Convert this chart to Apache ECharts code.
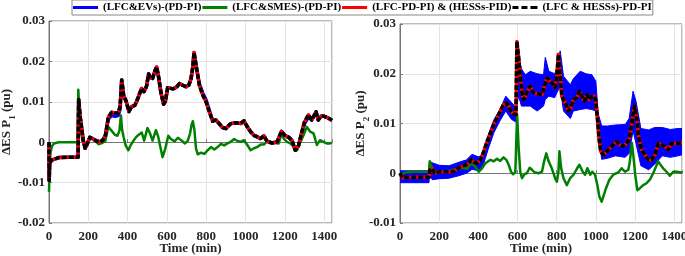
<!DOCTYPE html>
<html>
<head>
<meta charset="utf-8">
<script src="https://cdn.jsdelivr.net/npm/echarts@6/dist/echarts.min.js"></script>
<style>html,body{margin:0;padding:0;background:#fff}#c{width:685px;height:256px}</style>
</head>
<body>
<div id="c"></div>
<script>
// ---------- names ----------
const nameEv = '(LFC&EVs)-(PD-PI)';
const nameSmes = '(LFC&SMES)-(PD-PI)';
const namePid = '(LFC-PD-PI) & (HESSs-PID)';
const nameHess = '(LFC & HESSs)-PD-PI';

// ---------- axes ----------
const xTicks = [0, 200, 400, 600, 800, 1000, 1200, 1400];
const y1Ticks = [-0.02, -0.01, 0, 0.01, 0.02, 0.03];
const y2Ticks = [-0.01, 0, 0.01, 0.02, 0.03];

// ---------- left panel (ES P1) ----------
const p1Time = [0,1,3,10,20,50,100,148,151,158,
  166,174,184,194,208,225,242,258,272,287,
  302,319,336,352,362,370,380,392,407,420,
  437,455,471,483,496,507,515,527,540,548,
  557,570,583,592,604,614,631,648,664,681,
  698,712,723,732,738,748,765,782,799,816,
  833,849,866,883,900,925,950,976,992,1009,
  1026,1043,1060,1077,1093,1110,1135,1161,1183,1199,
  1220,1236,1253,1270,1287,1300,1320,1337,1359,1370,
  1385,1400,1420,1440];
const p1Hess = [0,-0.0095,-0.0058,-0.0045,-0.0041,-0.0038,-0.0037,-0.0037,0.0106,0.0065,
  0.0035,0.0005,-0.0015,-0.0005,0.0012,0.0008,0.0003,0.0001,0.0004,0.0017,
  0.0062,0.0074,0.0072,0.0072,0.009,0.0154,0.0115,0.0102,0.0076,0.0088,
  0.0091,0.0112,0.0133,0.0125,0.0138,0.0169,0.016,0.0158,0.0178,0.0186,
  0.0163,0.0122,0.0094,0.0101,0.0135,0.0132,0.0132,0.0136,0.0145,0.0141,
  0.0137,0.0142,0.0158,0.0187,0.0222,0.0191,0.0141,0.0117,0.01,0.0075,
  0.0052,0.0055,0.0046,0.0036,0.0034,0.0046,0.0048,0.0046,0.0053,0.0038,
  0.0026,0.0017,0.0013,0.0009,0.0016,0.0002,-0.0002,0.0001,0.0027,0.0017,
  0.0012,0.0005,-0.002,-0.0008,0.0026,0.005,0.0068,0.0055,0.0075,0.0055,
  0.0065,0.0064,0.006,0.0054];
const p1Pid = p1Hess.slice();
const p1Ev = [0,-0.0095,-0.0058,-0.0045,-0.0041,-0.0038,-0.0037,-0.0037,0.0106,0.0065,
  0.0035,0.0005,-0.0015,-0.0005,0.0012,0.0008,0.0003,0.0001,0.0004,0.0017,
  0.0058,0.0066,0.0064,0.0066,0.0082,0.0154,0.0115,0.0102,0.0076,0.0088,
  0.0091,0.0112,0.0133,0.0125,0.0138,0.0169,0.016,0.0158,0.0178,0.0186,
  0.0163,0.0122,0.0094,0.0101,0.0135,0.0132,0.0132,0.0136,0.0145,0.0141,
  0.0137,0.0142,0.0158,0.0187,0.0222,0.0191,0.0145,0.0122,0.0105,0.0079,
  0.0052,0.0055,0.0046,0.0036,0.0034,0.0046,0.0048,0.0046,0.0053,0.0038,
  0.0026,0.0017,0.0013,0.0009,0.0016,0.0002,-0.0002,0.0001,0.0027,0.0017,
  0.0012,0.0005,-0.002,-0.0008,0.0026,0.0046,0.0062,0.0055,0.0075,0.0055,
  0.0065,0.0064,0.006,0.0054];
const g1Time = [0,3,8,15,25,50,100,146,149,156,
  168,185,200,208,225,240,252,270,286,302,
  319,336,348,358,366,372,380,390,404,415,
  429,442,455,472,484,501,514,527,544,556,
  565,578,592,607,620,639,656,673,690,706,
  718,725,732,740,748,757,774,791,807,824,
  841,858,875,891,908,925,942,959,976,992,
  1009,1026,1043,1060,1077,1093,1110,1127,1144,1169,
  1183,1194,1211,1228,1245,1262,1278,1295,1312,1329,
  1346,1363,1379,1396,1413,1430,1440];
const g1Smes = [-0.0123,-0.0065,-0.0025,-0.001,-0.0003,0,0,0,0.013,0.0065,
  0.001,-0.0015,0.0003,0.0009,0.0008,0.0001,-0.0005,-0.0002,0.0002,0.0038,
  0.0028,0.0018,0.0016,0.0028,0.0066,0.003,0.0012,-0.0008,-0.002,-0.0008,
  0.0003,0.0012,0.0018,0.0024,0.0004,0.0035,0.0022,0.0004,0.003,0.0013,
  -0.0008,-0.0037,-0.0015,0.0016,0.0008,0.0002,0.0011,0.0005,-0.0003,0.0003,
  0.0022,0.0042,0.0052,0.003,-0.0016,-0.003,-0.0026,-0.0029,-0.002,-0.0012,
  -0.0018,-0.0012,-0.0004,-0.0008,-0.0003,0.0001,0.0008,0.0003,0.0001,0.0005,
  -0.0007,-0.002,-0.0015,-0.0012,-0.0006,-0.0006,0.0002,0,-0.0002,-0.0003,
  0.0021,0.0009,0.0001,-0.0003,-0.0011,-0.002,-0.0001,0.0017,0.0038,0.0026,
  0.0022,-0.0007,0.0005,0.0001,-0.0003,-0.0003,-0.0001];

// ---------- right panel (ES P2) ----------
const p2Time = [0,12,50,100,148,153,165,176,190,207,
  241,275,292,309,334,351,363,377,394,411,
  428,445,462,479,495,512,529,543,555,567,
  580,592,597,606,614,623,631,640,652,665,
  682,699,725,736,750,767,784,792,801,809,
  818,826,835,848,860,872,886,903,916,928,
  942,954,967,979,991,999,1008,1016,1025,1039,
  1055,1072,1089,1106,1123,1140,1157,1171,1183,1191,
  1198,1208,1217,1234,1251,1268,1285,1302,1319,1336,
  1352,1369,1386,1403,1420,1440];
const p2Hess = [0,-0.0009,-0.0008,-0.0008,-0.0008,0.0007,0.0009,0,0.0002,0.0003,
  0.0003,0.0003,0.0009,0.0013,0.0017,0.002,0.0027,0.0023,0.002,0.0027,
  0.0044,0.0064,0.0081,0.0098,0.0111,0.0125,0.0138,0.0141,0.0135,0.0125,
  0.0119,0.0118,0.0265,0.0232,0.0195,0.0162,0.0148,0.0155,0.0166,0.0175,
  0.0162,0.016,0.0158,0.0173,0.0192,0.0185,0.0178,0.0172,0.0198,0.0239,
  0.0199,0.0155,0.0152,0.0138,0.0125,0.0131,0.0148,0.0152,0.0165,0.0155,
  0.0145,0.0158,0.0148,0.0155,0.0155,0.0148,0.0111,0.0071,0.0044,0.0037,
  0.0044,0.005,0.0057,0.0064,0.0057,0.0054,0.006,0.007,0.0098,0.0121,
  0.0135,0.0111,0.0077,0.0047,0.0037,0.0027,0.0027,0.0037,0.006,0.0057,
  0.0054,0.0047,0.006,0.006,0.006,0.0061];
const p2Pid = p2Hess.slice();
// blue (EVs) curve in the right panel: envelope of its fast oscillation
const b2Time = [0,148,150,165,200,250,300,340,368,400,
  420,450,480,510,540,570,592,598,606,620,
  640,665,700,733,742,760,790,805,818,835,
  870,885,920,950,980,1000,1012,1030,1060,1100,
  1150,1170,1190,1205,1230,1270,1300,1340,1380,1420,
  1440];
const b2Upper = [0.0005,0.0005,0.0024,0.0021,0.0016,0.0015,0.0022,0.0027,0.0038,0.0033,
  0.0036,0.0076,0.0108,0.0128,0.0155,0.0142,0.0132,0.0245,0.0235,0.021,
  0.0198,0.0205,0.02,0.0198,0.0233,0.0205,0.02,0.0215,0.0246,0.0195,
  0.0178,0.019,0.0205,0.02,0.0198,0.0185,0.012,0.0095,0.0095,0.0097,
  0.0098,0.011,0.0165,0.0145,0.009,0.0087,0.0092,0.0092,0.0088,0.009,
  0.009];
const b2Lower = [-0.0019,-0.0019,-0.0005,-0.0013,-0.0011,-0.001,-0.0005,0,0.0008,0.0005,
  0.001,0.0048,0.0082,0.0105,0.0125,0.0108,0.0103,0.014,0.0155,0.0135,
  0.0135,0.0135,0.0125,0.0135,0.0148,0.0155,0.0152,0.0165,0.0172,0.0125,
  0.011,0.0125,0.0128,0.013,0.0128,0.0125,0.008,0.0028,0.003,0.0035,
  0.0032,0.004,0.0085,0.006,0.0015,0.0007,0.0018,0.0035,0.0032,0.0035,
  0.0037];
const g2Time = [0,5,20,60,100,148,152,160,175,190,
  220,260,292,317,343,363,373,385,402,419,
  436,462,479,495,512,529,543,555,567,577,
  589,594,598,606,614,623,635,648,662,674,
  686,708,725,736,747,759,775,792,801,809,
  814,823,835,852,860,869,886,903,916,933,
  945,957,971,982,996,1008,1018,1030,1039,1052,
  1069,1089,1115,1132,1149,1166,1174,1184,1193,1201,
  1212,1225,1242,1259,1276,1293,1307,1319,1330,1344,
  1361,1378,1395,1412,1429,1440];
const g2Smes = [0,-0.0006,0.0001,0.0003,0.0003,0.0003,0.0024,0.0014,0.0005,0.0003,
  0.0004,0.0005,0.0009,0.0011,0.0009,0.002,0.0024,0.0013,0.0003,0.001,
  0.002,0.0027,0.0024,0.0029,0.0025,0.0032,0.0027,0.0017,0.0003,-0.0002,
  0.0002,0.0004,0.0118,0.005,0.0003,-0.001,-0.0002,0,0.0011,0.0007,
  0.0002,0,0.0003,0.0024,0.004,0.0024,0.001,-0.001,-0.0017,0.0003,
  0.0044,0.001,-0.001,-0.0024,-0.0017,-0.001,-0.0003,0.0009,0.0017,0.0003,
  -0.0003,0.001,-0.0003,0.0003,-0.0003,-0.0024,-0.0047,-0.0057,-0.0054,-0.003,
  -0.0013,-0.0003,0.0002,0.001,0.0003,0.0007,0.0024,0.0061,0.003,-0.0003,
  -0.0034,-0.003,-0.0024,-0.002,-0.0013,0,0.0013,0.0024,0.0017,0.001,
  0.0003,-0.0005,0.0003,0.0003,0.0002,0.0001];

// ---------- build ----------
const zip = (t, v) => t.map((x, i) => [x, v[i]]);
const FONT = '"Liberation Serif", "Times New Roman", serif';
const C_BLUE = '#0000ff', C_GREEN = '#008000', C_RED = '#ff0000', C_BLACK = '#000000';
const AXIS_C = '#777777';
const TXT_C = '#262626';
const yFmt = v => Math.abs(v) < 1e-9 ? '0' : v.toFixed(2);

function xAxis(gi) {
  return {
    type: 'value', gridIndex: gi, min: 0, max: 1440, interval: 200,
    name: 'Time (min)', nameLocation: 'middle', nameGap: 19, nameMoveOverlap: false,
    nameTextStyle: { fontFamily: FONT, fontWeight: 'bold', fontSize: 13, color: TXT_C },
    axisLine: { show: true, lineStyle: { color: AXIS_C } },
    axisTick: { show: true, inside: true, length: 3, lineStyle: { color: AXIS_C } },
    axisLabel: { fontFamily: FONT, fontWeight: 'bold', fontSize: 13, color: TXT_C, margin: 7,
      formatter: v => xTicks.includes(v) ? String(v) : '' },
    splitLine: { show: true, lineStyle: { color: '#e4e4e4', width: 1 } }
  };
}
function yAxis(gi, min, max, sub, gap) {
  return {
    type: 'value', gridIndex: gi, min: min, max: max, interval: 0.01,
    name: '{a|ΔES P}{s|' + sub + '}{a| (pu)}', nameLocation: 'middle', nameGap: gap, nameRotate: 90,
    nameMoveOverlap: false,
    nameTextStyle: {
      rich: {
        a: { fontFamily: FONT, fontWeight: 'bold', fontSize: 13, color: TXT_C, lineHeight: 17, verticalAlign: 'top' },
        s: { fontFamily: FONT, fontWeight: 'bold', fontSize: 9, color: TXT_C, lineHeight: 9, verticalAlign: 'bottom' }
      }
    },
    axisLine: { show: true, lineStyle: { color: AXIS_C } },
    axisTick: { show: true, inside: true, length: 3, lineStyle: { color: AXIS_C } },
    axisLabel: { fontFamily: FONT, fontWeight: 'bold', fontSize: 13, color: TXT_C, margin: 4, formatter: yFmt },
    splitLine: { show: true, lineStyle: { color: '#e4e4e4', width: 1 } }
  };
}
function line(name, data, gi, color, width, dash, z) {
  return {
    type: 'line', name: name, data: data, xAxisIndex: gi, yAxisIndex: gi,
    symbol: 'none', showSymbol: false, z: z, silent: true,
    lineStyle: { color: color, width: width, type: dash || 'solid', join: 'round' },
    itemStyle: { color: color }
  };
}

const iconSolid = 'path://M0,0H25V3H0Z';
const iconDash = 'path://M0,0H6V3H0ZM9,0H15V3H9ZM18,0H25V3H18Z';

const option = {
  animation: false,
  backgroundColor: '#ffffff',
  legend: {
    top: 0, left: 72, padding: [1, 1], itemWidth: 25, itemHeight: 3, itemGap: 1,
    borderColor: '#888', borderWidth: 1, borderRadius: 0,
    textStyle: { fontFamily: FONT, fontWeight: 'bold', fontSize: 11, color: '#000', lineHeight: 13 },
    data: [
      { name: nameEv, icon: iconSolid },
      { name: nameSmes, icon: iconSolid },
      { name: namePid, icon: iconSolid },
      { name: nameHess, icon: iconDash }
    ],
    selectedMode: false
  },
  grid: [
    { left: 49, width: 283, top: 21, height: 202, show: true, borderColor: AXIS_C, borderWidth: 1,
      outerBoundsMode: 'none', containLabel: false },
    { left: 400, width: 282, top: 24, height: 199, show: true, borderColor: AXIS_C, borderWidth: 1,
      outerBoundsMode: 'none', containLabel: false }
  ],
  xAxis: [xAxis(0), xAxis(1)],
  yAxis: [yAxis(0, -0.02, 0.03, '1', 32), yAxis(1, -0.01, 0.03, '2', 29)],
  series: [
    line(nameEv, zip(p1Time, p1Ev), 0, C_BLUE, 3.5, null, 2),
    line(nameSmes, zip(g1Time, g1Smes), 0, C_GREEN, 2.5, null, 3),
    line(namePid, zip(p1Time, p1Pid), 0, C_RED, 3.5, null, 4),
    line(nameHess, zip(p1Time, p1Hess), 0, C_BLACK, 3.5, [5, 2], 5),
    {
      type: 'custom', name: nameEv, xAxisIndex: 1, yAxisIndex: 1, z: 2, silent: true,
      data: [[0, 0]], clip: true,
      itemStyle: { color: C_BLUE },
      renderItem: function (params, api) {
        const up = b2Time.map((t, i) => api.coord([t, b2Upper[i]]));
        const lo = b2Time.map((t, i) => api.coord([t, b2Lower[i]])).reverse();
        return {
          type: 'polygon',
          shape: { points: up.concat(lo) },
          style: { fill: C_BLUE, stroke: C_BLUE, lineWidth: 1 }
        };
      }
    },
    line(nameSmes, zip(g2Time, g2Smes), 1, C_GREEN, 2.5, null, 3),
    line(namePid, zip(p2Time, p2Pid), 1, C_RED, 3.5, null, 4),
    line(nameHess, zip(p2Time, p2Hess), 1, C_BLACK, 3.5, [5, 2], 5)
  ]
};
const chart = echarts.init(document.getElementById('c'), null, { renderer: 'canvas' });
chart.setOption(option);
</script>
</body>
</html>
